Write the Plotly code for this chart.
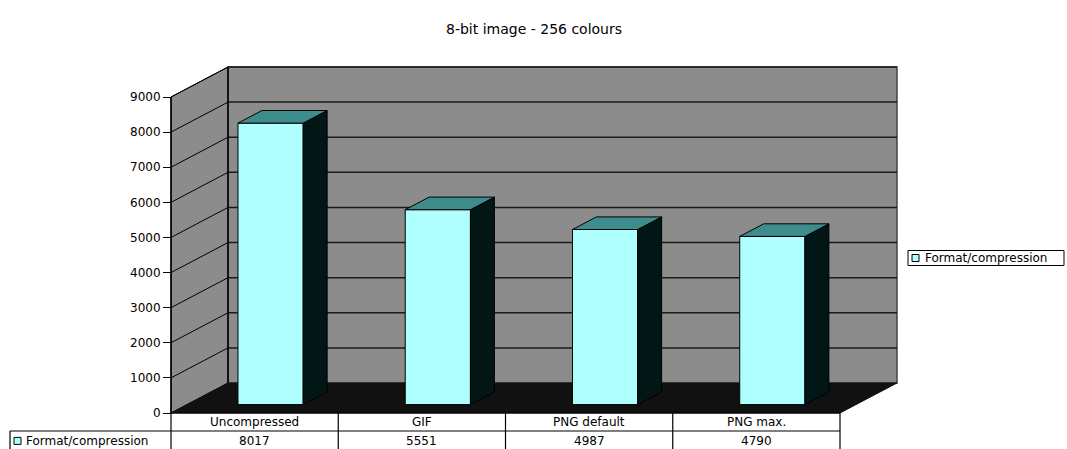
import plotly.graph_objects as go

# ---------------- data ----------------
categories = ["Uncompressed", "GIF", "PNG default", "PNG max."]
values = [8017, 5551, 4987, 4790]
series_name = "Format/compression"
title_text = "8-bit image - 256 colours"
y_ticks = [0, 1000, 2000, 3000, 4000, 5000, 6000, 7000, 8000, 9000]

# ---------------- geometry / style ----------------
W, H = 1067, 449
X0_PX = 171.0          # pixel x of the front-left corner
CAT_PX = 167.25        # pixels per category
Y0_PX = 413.0          # pixel y of value 0 at the front plane
PPU = 35.11 / 1000.0   # pixels per value unit
DEPTH_PX = (57.0, 30.0)  # 3D depth offset (right, up) in pixels
F0, F1 = 0.28, 0.70    # bar front / back as fraction of depth
BAR_W = 0.39           # bar width in category units
ROW_PX = 18.0          # table row height in pixels
TABLE_LEFT_PX = 10.0

DX = DEPTH_PX[0] / CAT_PX
DY = DEPTH_PX[1] / PPU
ROW = ROW_PX / PPU
YMAX = max(y_ticks)
N = len(categories)
TL = (TABLE_LEFT_PX - X0_PX) / CAT_PX

x_range = [-X0_PX / CAT_PX, (W - X0_PX) / CAT_PX]
y_range = [(Y0_PX - H) / PPU, Y0_PX / PPU]

WALL = "#8c8c8c"
FLOOR = "#111111"
FRONT = "#b0ffff"
TOP = "#3f8c8c"
SIDE = "#031616"
FONT = "DejaVu Sans"

fig = go.Figure()
shapes = []


def poly(pts):
    return "M " + " L ".join(f"{x},{y}" for x, y in pts) + " Z"


# walls and floor
shapes.append(dict(type="path", layer="below", xref="x", yref="y",
                   path=poly([(0, 0), (0, YMAX), (DX, YMAX + DY), (DX, DY)]),
                   fillcolor=WALL, line=dict(color="black", width=1)))
shapes.append(dict(type="path", layer="below", xref="x", yref="y",
                   path=poly([(DX, DY), (N + DX, DY), (N + DX, YMAX + DY), (DX, YMAX + DY)]),
                   fillcolor=WALL, line=dict(color="#444444", width=1.5)))
shapes.append(dict(type="path", layer="below", xref="x", yref="y",
                   path=poly([(0, 0), (N, 0), (N + DX, DY), (DX, DY)]),
                   fillcolor=FLOOR, line=dict(color=FLOOR, width=1)))
# gridlines
for v in y_ticks[1:]:
    shapes.append(dict(type="line", layer="below", xref="x", yref="y",
                       x0=0, y0=v, x1=DX, y1=v + DY, line=dict(color="black", width=1)))
    shapes.append(dict(type="line", layer="below", xref="x", yref="y",
                       x0=DX, y0=v + DY, x1=N + DX, y1=v + DY, line=dict(color="#1a1a1a", width=1.5)))
shapes.append(dict(type="line", layer="below", xref="x", yref="y",
                   x0=DX, y0=DY, x1=DX, y1=YMAX + DY, line=dict(color="black", width=1.5)))
# value axis line
shapes.append(dict(type="line", xref="x", yref="y", x0=0, y0=0, x1=0, y1=YMAX,
                   line=dict(color="black", width=1.5)))

# table
for i in range(N + 1):
    shapes.append(dict(type="line", xref="x", yref="y", x0=i, y0=0, x1=i, y1=-2.2 * ROW,
                       line=dict(color="black", width=1.2)))
shapes.append(dict(type="line", xref="x", yref="y", x0=0, y0=0, x1=N, y1=0,
                   line=dict(color="black", width=1.2)))
shapes.append(dict(type="line", xref="x", yref="y", x0=TL, y0=-ROW, x1=N, y1=-ROW,
                   line=dict(color="black", width=1.2)))
shapes.append(dict(type="line", xref="x", yref="y", x0=TL, y0=-ROW, x1=TL, y1=-2.2 * ROW,
                   line=dict(color="black", width=1.2)))

annotations = []
for i, (c, v) in enumerate(zip(categories, values)):
    annotations.append(dict(x=i + 0.5, y=-0.5 * ROW, xref="x", yref="y", text=c,
                            showarrow=False, font=dict(family=FONT, size=12, color="black")))
    annotations.append(dict(x=i + 0.5, y=-1.55 * ROW, xref="x", yref="y", text=str(v),
                            showarrow=False, font=dict(family=FONT, size=12, color="black")))

# legend key inside table
sq_w = 7 / CAT_PX
sq_h = 7 / PPU
kx = TL + 4 / CAT_PX
shapes.append(dict(type="rect", xref="x", yref="y", x0=kx, x1=kx + sq_w,
                   y0=-1.55 * ROW - sq_h / 2, y1=-1.55 * ROW + sq_h / 2,
                   fillcolor=FRONT, line=dict(color="black", width=1)))
annotations.append(dict(x=kx + sq_w + 3 / CAT_PX, y=-1.55 * ROW, xref="x", yref="y",
                        xanchor="left", text=series_name, showarrow=False,
                        font=dict(family=FONT, size=12, color="black")))

# right-hand legend box
LX0, LX1 = (908 - X0_PX) / CAT_PX, (1064 - X0_PX) / CAT_PX
LYC = (Y0_PX - 258) / PPU
LH = 15 / PPU
shapes.append(dict(type="rect", xref="x", yref="y", x0=LX0, x1=LX1,
                   y0=LYC - LH / 2, y1=LYC + LH / 2,
                   fillcolor="white", line=dict(color="black", width=1)))
shapes.append(dict(type="rect", xref="x", yref="y", x0=LX0 + 4 / CAT_PX, x1=LX0 + 4 / CAT_PX + sq_w,
                   y0=LYC - sq_h / 2, y1=LYC + sq_h / 2,
                   fillcolor=FRONT, line=dict(color="black", width=1)))
annotations.append(dict(x=LX0 + 4 / CAT_PX + sq_w + 4 / CAT_PX, y=LYC, xref="x", yref="y",
                        xanchor="left", text=series_name, showarrow=False,
                        font=dict(family=FONT, size=12, color="black")))

# title
annotations.append(dict(x=534 / W, y=1 - 19 / H, xref="paper", yref="paper", text=title_text,
                        showarrow=False, font=dict(family=FONT, size=14, color="black")))

# ---------------- bars ----------------
xc = [i + 0.5 + F0 * DX for i in range(N)]
base = F0 * DY
dfx = (F1 - F0) * DX
dfy = (F1 - F0) * DY

top_x, top_y, side_x, side_y = [], [], [], []
for c, v in zip(xc, values):
    xl, xr = c - BAR_W / 2, c + BAR_W / 2
    t = base + v
    top_x += [xl, xr, xr + dfx, xl + dfx, xl, None]
    top_y += [t, t, t + dfy, t + dfy, t, None]
    side_x += [xr, xr, xr + dfx, xr + dfx, xr, None]
    side_y += [base, t, t + dfy, base + dfy, base, None]

fig.add_trace(go.Bar(x=xc, y=values, base=base, width=BAR_W, name=series_name,
                     marker=dict(color=FRONT, line=dict(color="black", width=1)),
                     showlegend=False, hoverinfo="skip"))
fig.add_trace(go.Scatter(x=side_x, y=side_y, mode="lines", fill="toself", fillcolor=SIDE,
                         line=dict(color="black", width=1), showlegend=False, hoverinfo="skip"))
fig.add_trace(go.Scatter(x=top_x, y=top_y, mode="lines", fill="toself", fillcolor=TOP,
                         line=dict(color="black", width=1), showlegend=False, hoverinfo="skip"))

fig.update_layout(
    width=W, height=H,
    margin=dict(l=0, r=0, t=0, b=0, pad=0),
    paper_bgcolor="white", plot_bgcolor="white",
    shapes=shapes, annotations=annotations,
    showlegend=False,
    xaxis=dict(range=x_range, visible=False, fixedrange=True),
    yaxis=dict(range=y_range, anchor="free", position=X0_PX / W, side="left",
               tickmode="array", tickvals=y_ticks, ticks="outside", ticklen=8,
               tickcolor="black", tickwidth=1.2, showline=False, showgrid=False,
               zeroline=False, automargin=False, fixedrange=True,
               tickfont=dict(family=FONT, size=12, color="black")),
)

fig.write_html("out.html")
